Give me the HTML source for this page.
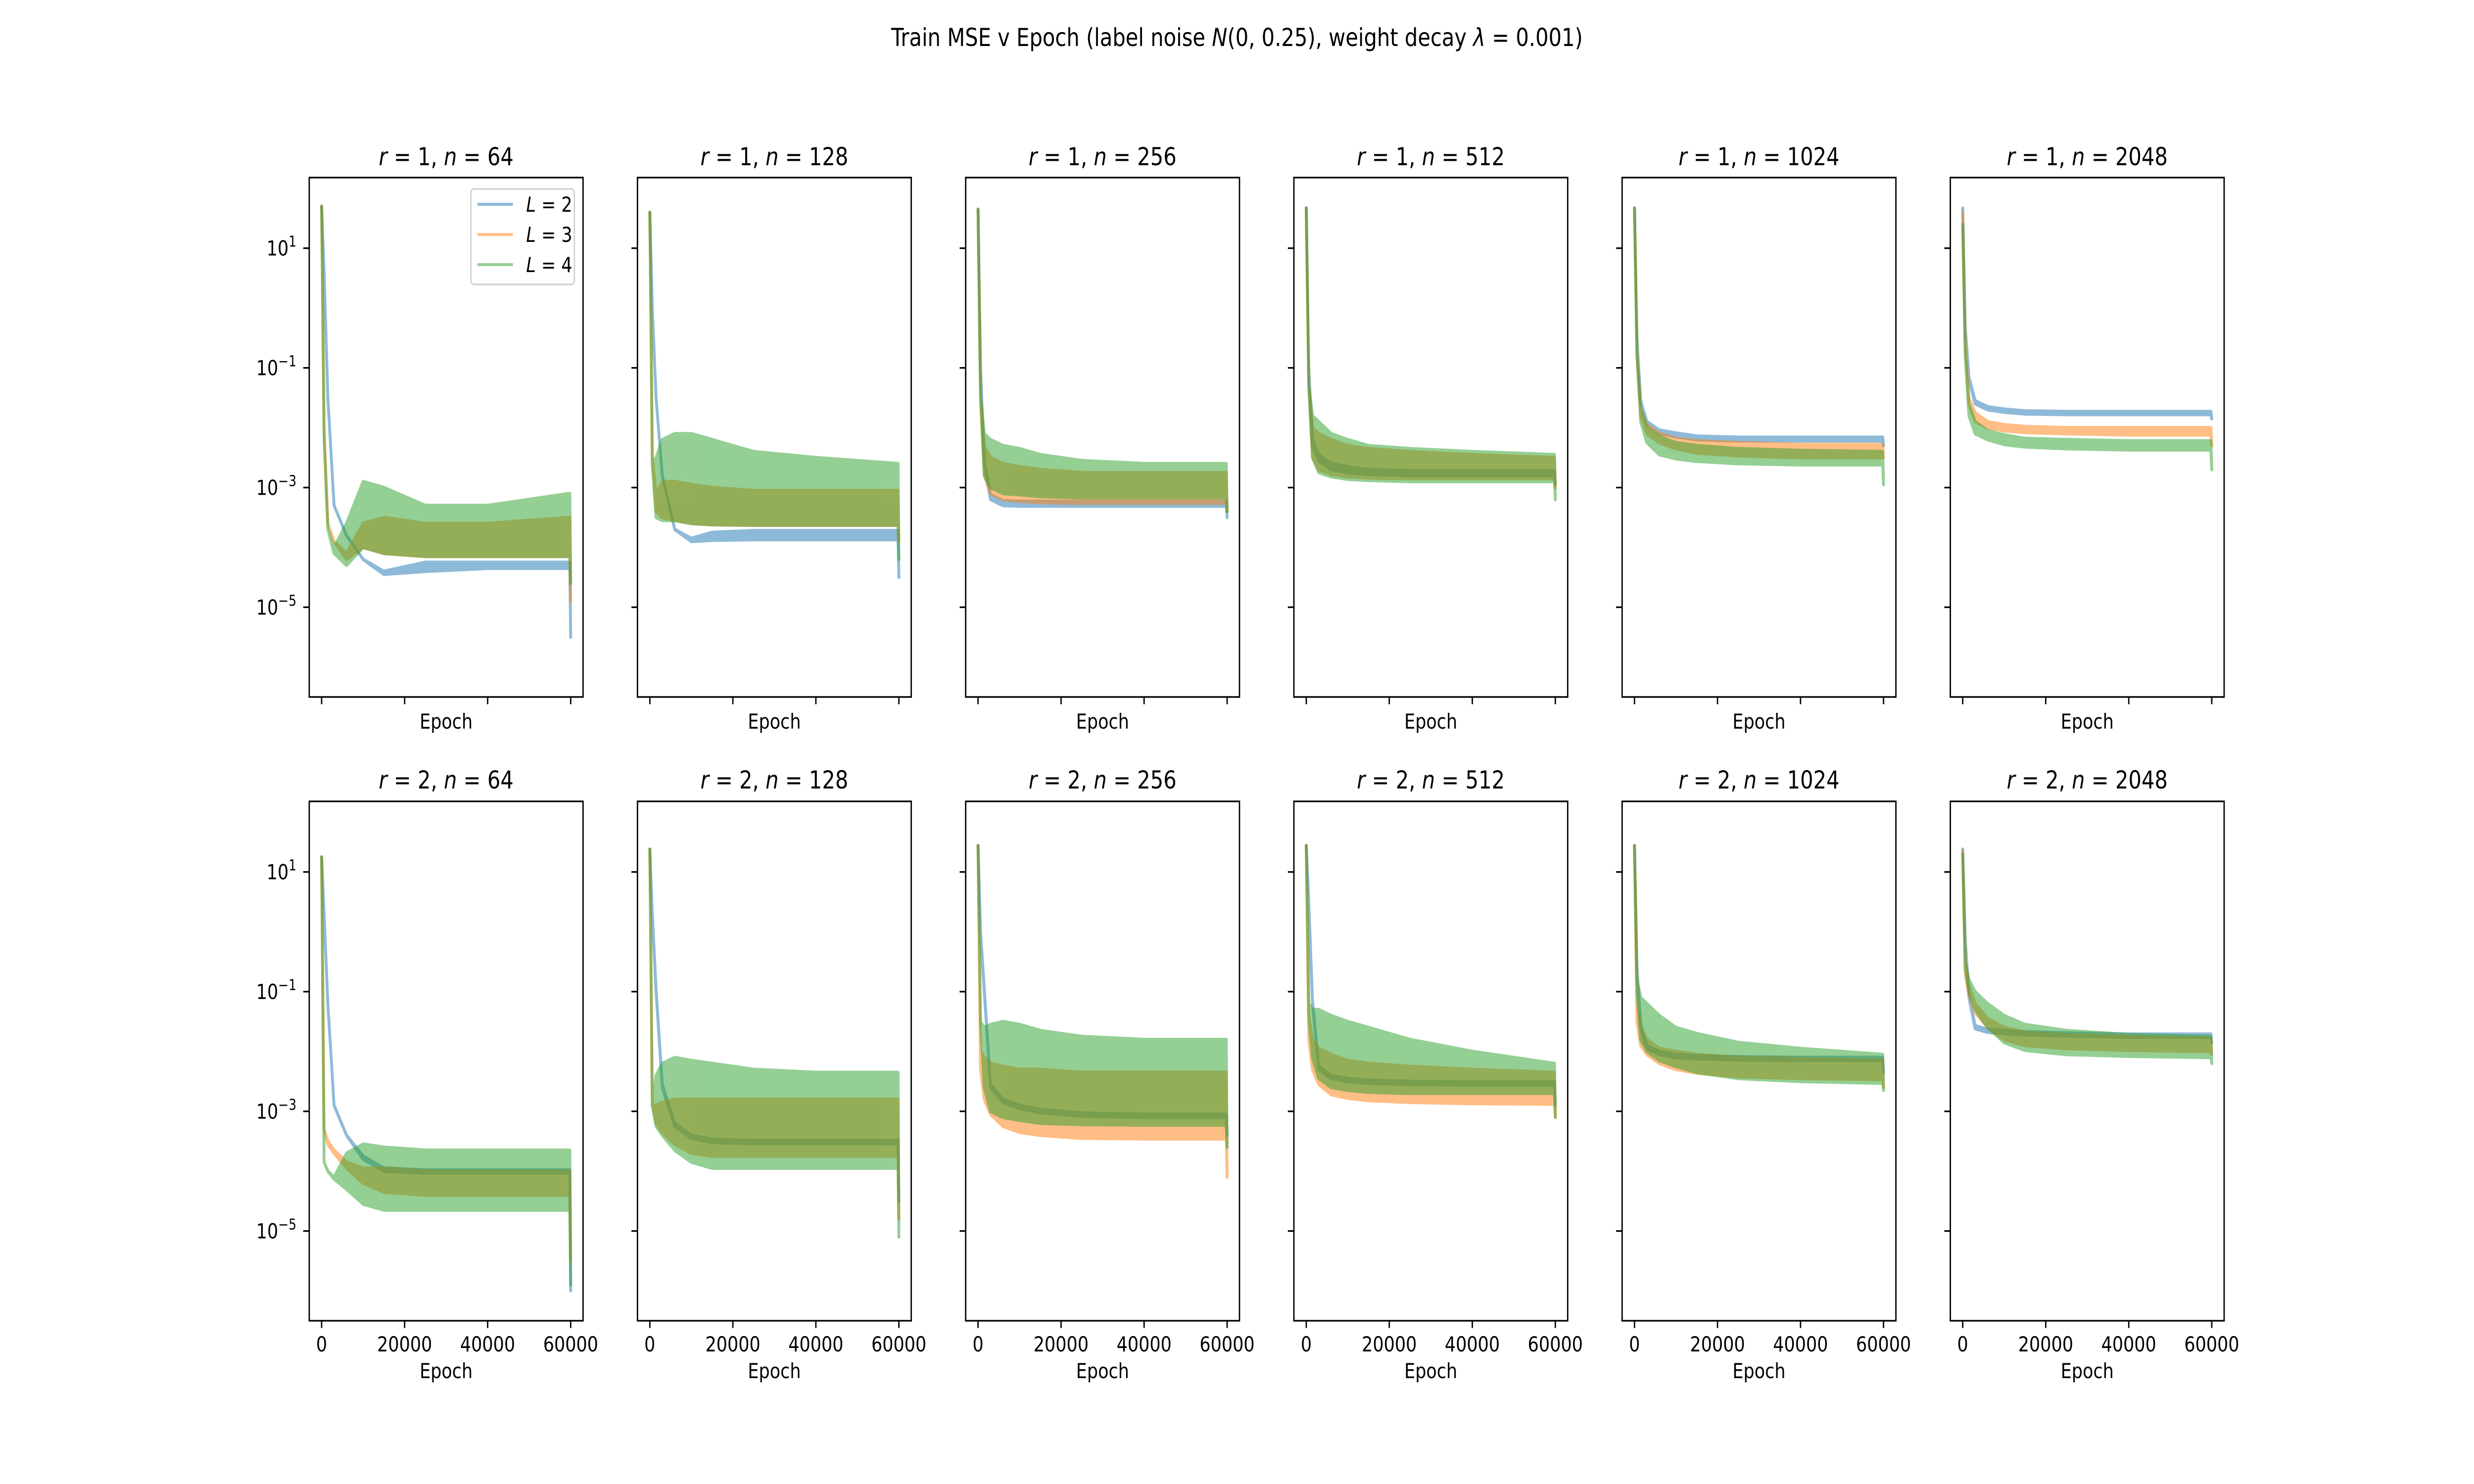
<!DOCTYPE html>
<html><head><meta charset="utf-8"><title>Train MSE v Epoch</title>
<style>
html,body{margin:0;padding:0;background:#fff;overflow:hidden;width:100%;height:100%;}
svg{display:block;font-family:"DejaVu Sans","Liberation Sans",sans-serif;width:100vw;height:100vh;}
</style></head>
<body>
<svg id="fig" viewBox="0 0 6000 3000" preserveAspectRatio="none" xmlns="http://www.w3.org/2000/svg">
<rect x="0" y="0" width="6000" height="3000" fill="#fff"/>
<text x="3000" y="93" font-size="50" text-anchor="middle">Train MSE v Epoch (label noise <tspan font-style="italic">N</tspan>(0, 0.25), weight decay <tspan font-style="italic">λ</tspan> = 0.001)</text>
</svg>
<script>
// ---- data (log10 of train MSE) ----
const epochs = [0, 600, 1500, 3000, 6000, 10000, 15000, 25000, 40000, 59800, 60000];
const rValues = [1, 2];
const nValues = [64, 128, 256, 512, 1024, 2048];
const depthLabels = ["2", "3", "4"];
const xTickValues = [0, 20000, 40000, 60000];
const xTickLabels = ["0", "20000", "40000", "60000"];
const yTickExps = [1, -1, -3, -5];
const yTickSupers = ["1", "\u22121", "\u22123", "\u22125"];

// r=1
const lo_r1_n64 = [
 [1.7,0.6,-1.5,-3.3,-3.8,-4.2,-4.45,-4.4,-4.35,-4.35,-5.5],
 [1.7,-2.0,-3.6,-3.9,-4.2,-4.0,-4.1,-4.15,-4.15,-4.15,-4.9],
 [1.7,-2.2,-3.7,-4.1,-4.3,-4.0,-4.1,-4.15,-4.15,-4.15,-4.6]];
const hi_r1_n64 = [
 [1.7,0.6,-1.5,-3.3,-3.8,-4.2,-4.4,-4.25,-4.25,-4.25,-5.5],
 [1.7,-2.0,-3.6,-3.9,-4.1,-3.6,-3.5,-3.6,-3.6,-3.5,-4.9],
 [1.7,-2.2,-3.7,-4.0,-3.6,-2.9,-3.0,-3.3,-3.3,-3.1,-4.6]];
const lo_r1_n128 = [
 [1.6,0.0,-1.5,-2.8,-3.7,-3.9,-3.88,-3.87,-3.87,-3.87,-4.5],
 [1.6,-2.5,-3.4,-3.5,-3.55,-3.6,-3.62,-3.63,-3.63,-3.63,-3.9],
 [1.6,-2.6,-3.5,-3.55,-3.55,-3.6,-3.62,-3.63,-3.63,-3.63,-4.2]];
const hi_r1_n128 = [
 [1.6,0.0,-1.5,-2.8,-3.7,-3.85,-3.75,-3.72,-3.72,-3.72,-4.5],
 [1.6,-2.5,-3.1,-2.9,-2.9,-2.95,-3.0,-3.05,-3.05,-3.05,-3.9],
 [1.6,-2.6,-2.5,-2.2,-2.1,-2.1,-2.2,-2.4,-2.5,-2.6,-4.2]];
const lo_r1_n256 = [
 [1.65,-1.0,-2.6,-3.2,-3.3,-3.31,-3.31,-3.31,-3.31,-3.31,-3.5],
 [1.65,-1.5,-2.8,-3.1,-3.2,-3.23,-3.25,-3.26,-3.26,-3.26,-3.4],
 [1.65,-1.5,-2.8,-3.0,-3.1,-3.12,-3.15,-3.17,-3.17,-3.17,-3.4]];
const hi_r1_n256 = [
 [1.65,-1.0,-2.55,-3.12,-3.22,-3.23,-3.23,-3.23,-3.23,-3.23,-3.5],
 [1.65,-1.5,-2.3,-2.5,-2.6,-2.65,-2.7,-2.75,-2.75,-2.75,-3.4],
 [1.65,-1.5,-2.1,-2.2,-2.3,-2.35,-2.45,-2.55,-2.6,-2.6,-3.4]];
const lo_r1_n512 = [
 [1.67,-1.0,-2.3,-2.55,-2.7,-2.75,-2.78,-2.8,-2.8,-2.8,-2.95],
 [1.67,-1.3,-2.5,-2.7,-2.78,-2.82,-2.84,-2.85,-2.85,-2.85,-3.0],
 [1.67,-1.3,-2.5,-2.75,-2.82,-2.86,-2.88,-2.9,-2.9,-2.9,-3.2]];
const hi_r1_n512 = [
 [1.67,-1.0,-2.2,-2.45,-2.6,-2.65,-2.7,-2.72,-2.72,-2.72,-2.95],
 [1.67,-1.3,-2.0,-2.1,-2.2,-2.3,-2.35,-2.4,-2.45,-2.5,-3.0],
 [1.67,-1.3,-1.8,-1.9,-2.1,-2.2,-2.3,-2.35,-2.4,-2.45,-3.2]];
const lo_r1_n1024 = [
 [1.67,-0.5,-1.6,-1.95,-2.1,-2.15,-2.2,-2.22,-2.22,-2.22,-2.3],
 [1.67,-0.8,-1.8,-2.1,-2.25,-2.35,-2.42,-2.47,-2.5,-2.5,-2.5],
 [1.67,-0.8,-1.9,-2.25,-2.45,-2.52,-2.56,-2.6,-2.62,-2.62,-2.95]];
const hi_r1_n1024 = [
 [1.67,-0.5,-1.55,-1.9,-2.04,-2.09,-2.14,-2.16,-2.16,-2.16,-2.3],
 [1.67,-0.8,-1.7,-1.95,-2.1,-2.18,-2.22,-2.25,-2.28,-2.28,-2.5],
 [1.67,-0.8,-1.7,-2.0,-2.15,-2.25,-2.3,-2.35,-2.38,-2.4,-2.95]];
const lo_r1_n2048 = [
 [1.67,-0.3,-1.2,-1.6,-1.7,-1.74,-1.77,-1.78,-1.78,-1.78,-1.85],
 [1.6,-0.6,-1.6,-1.9,-2.0,-2.05,-2.08,-2.1,-2.12,-2.12,-2.3],
 [1.4,-0.8,-1.8,-2.1,-2.2,-2.28,-2.32,-2.35,-2.37,-2.37,-2.7]];
const hi_r1_n2048 = [
 [1.67,-0.3,-1.15,-1.55,-1.65,-1.69,-1.72,-1.73,-1.73,-1.73,-1.85],
 [1.6,-0.6,-1.5,-1.75,-1.9,-1.95,-1.98,-2.0,-2.0,-2.0,-2.3],
 [1.4,-0.8,-1.6,-1.9,-2.05,-2.12,-2.18,-2.2,-2.22,-2.22,-2.7]];
// r=2
const lo_r2_n64 = [
 [1.25,0.3,-1.2,-2.9,-3.4,-3.8,-4.0,-4.03,-4.03,-4.03,-6.0],
 [1.25,-3.3,-3.55,-3.7,-3.95,-4.2,-4.35,-4.4,-4.4,-4.4,-5.5],
 [1.25,-3.85,-4.0,-4.13,-4.3,-4.55,-4.65,-4.65,-4.65,-4.65,-5.9]];
const hi_r2_n64 = [
 [1.25,0.3,-1.2,-2.9,-3.4,-3.75,-3.95,-3.98,-3.98,-3.98,-6.0],
 [1.25,-3.3,-3.5,-3.65,-3.85,-3.95,-3.95,-4.0,-4.0,-4.0,-5.5],
 [1.25,-3.85,-4.0,-4.1,-3.7,-3.55,-3.6,-3.65,-3.65,-3.65,-5.9]];
const lo_r2_n128 = [
 [1.38,0.3,-1.0,-2.6,-3.25,-3.45,-3.52,-3.54,-3.54,-3.54,-4.5],
 [1.38,-2.9,-3.2,-3.35,-3.55,-3.7,-3.75,-3.75,-3.75,-3.75,-4.8],
 [1.38,-2.9,-3.25,-3.4,-3.65,-3.85,-3.95,-3.95,-3.95,-3.95,-5.1]];
const hi_r2_n128 = [
 [1.38,0.3,-0.95,-2.55,-3.2,-3.4,-3.47,-3.49,-3.49,-3.49,-4.5],
 [1.38,-2.9,-2.9,-2.85,-2.8,-2.8,-2.8,-2.8,-2.8,-2.8,-4.8],
 [1.38,-2.9,-2.4,-2.2,-2.1,-2.15,-2.2,-2.3,-2.35,-2.35,-5.1]];
const lo_r2_n256 = [
 [1.44,0.0,-1.0,-2.6,-2.85,-2.95,-3.02,-3.08,-3.1,-3.1,-3.4],
 [1.44,-2.3,-2.8,-3.05,-3.25,-3.35,-3.4,-3.45,-3.46,-3.46,-4.1],
 [1.44,-1.5,-2.6,-3.0,-3.1,-3.15,-3.2,-3.22,-3.23,-3.23,-3.6]];
const hi_r2_n256 = [
 [1.44,0.0,-0.95,-2.55,-2.8,-2.9,-2.97,-3.03,-3.05,-3.05,-3.4],
 [1.44,-2.0,-2.1,-2.2,-2.25,-2.3,-2.3,-2.35,-2.35,-2.35,-4.1],
 [1.44,-1.5,-1.6,-1.55,-1.5,-1.55,-1.65,-1.75,-1.8,-1.8,-3.6]];
const lo_r2_n512 = [
 [1.44,0.5,-1.2,-2.3,-2.45,-2.5,-2.53,-2.55,-2.56,-2.56,-2.9],
 [1.44,-1.8,-2.3,-2.55,-2.72,-2.78,-2.82,-2.85,-2.87,-2.88,-3.1],
 [1.44,-1.4,-2.1,-2.45,-2.6,-2.65,-2.68,-2.7,-2.7,-2.7,-3.1]];
const hi_r2_n512 = [
 [1.44,0.5,-1.15,-2.25,-2.4,-2.45,-2.48,-2.5,-2.51,-2.51,-2.9],
 [1.44,-1.4,-1.8,-1.95,-2.05,-2.15,-2.2,-2.25,-2.3,-2.35,-3.1],
 [1.44,-1.2,-1.3,-1.3,-1.4,-1.5,-1.6,-1.8,-2.0,-2.2,-3.1]];
const lo_r2_n1024 = [
 [1.44,-0.6,-1.6,-1.95,-2.05,-2.1,-2.12,-2.14,-2.15,-2.15,-2.35],
 [1.44,-1.5,-1.9,-2.05,-2.2,-2.3,-2.36,-2.42,-2.45,-2.47,-2.6],
 [1.44,-1.0,-1.8,-2.0,-2.15,-2.25,-2.35,-2.45,-2.5,-2.53,-2.65]];
const hi_r2_n1024 = [
 [1.44,-0.6,-1.55,-1.9,-2.0,-2.05,-2.07,-2.09,-2.1,-2.1,-2.35],
 [1.44,-1.2,-1.6,-1.8,-1.95,-2.0,-2.05,-2.1,-2.12,-2.15,-2.6],
 [1.44,-0.8,-1.1,-1.2,-1.4,-1.6,-1.7,-1.85,-1.95,-2.05,-2.65]];
const lo_r2_n2048 = [
 [1.38,-0.1,-1.1,-1.62,-1.68,-1.7,-1.72,-1.74,-1.76,-1.76,-1.85],
 [1.35,-0.7,-1.05,-1.35,-1.6,-1.8,-1.9,-1.95,-1.98,-2.0,-2.05],
 [1.3,-0.6,-1.0,-1.3,-1.6,-1.85,-1.98,-2.05,-2.08,-2.1,-2.2]];
const hi_r2_n2048 = [
 [1.38,-0.1,-1.05,-1.57,-1.63,-1.65,-1.67,-1.69,-1.71,-1.71,-1.85],
 [1.35,-0.5,-0.9,-1.2,-1.45,-1.6,-1.68,-1.72,-1.75,-1.78,-2.05],
 [1.3,-0.5,-0.8,-1.0,-1.2,-1.4,-1.55,-1.65,-1.72,-1.75,-2.2]];

const loData = [[lo_r1_n64,lo_r1_n128,lo_r1_n256,lo_r1_n512,lo_r1_n1024,lo_r1_n2048],
                [lo_r2_n64,lo_r2_n128,lo_r2_n256,lo_r2_n512,lo_r2_n1024,lo_r2_n2048]];
const hiData = [[hi_r1_n64,hi_r1_n128,hi_r1_n256,hi_r1_n512,hi_r1_n1024,hi_r1_n2048],
                [hi_r2_n64,hi_r2_n128,hi_r2_n256,hi_r2_n512,hi_r2_n1024,hi_r2_n2048]];

// ---- layout ----
const NS = "http://www.w3.org/2000/svg";
const svg = document.getElementById("fig");
const colors = ["#1f77b4", "#ff7f0e", "#2ca02c"];
const panelW = 664, panelH = 1050, stepX = 796, left0 = 750;
const tops = [359, 1620];
const xMin = -2980, xMax = 62980, yMin = -6.5, yMax = 2.18;

function mk(tag, attrs) {
  const e = document.createElementNS(NS, tag);
  for (const k in attrs) e.setAttribute(k, attrs[k]);
  return e;
}

for (let ri = 0; ri < 2; ri++) {
  for (let ci = 0; ci < 6; ci++) {
    const px = left0 + ci * stepX, py = tops[ri];
    const sx = v => px + (v - xMin) / (xMax - xMin) * panelW;
    const sy = v => py + (yMax - v) / (yMax - yMin) * panelH;
    const g = mk("g", {});
    
    
    svg.appendChild(g);

    const clipId = "clip" + ri + "_" + ci;
    const cp = mk("clipPath", {id: clipId});
    cp.appendChild(mk("rect", {x: px, y: py, width: panelW, height: panelH}));
    g.appendChild(cp);

    const plot = mk("g", {"clip-path": "url(#" + clipId + ")"});
    g.appendChild(plot);
    for (let s = 0; s < 3; s++) {
      const lo = loData[ri][ci][s], hi = hiData[ri][ci][s];
      const pts = [];
      for (let i = 0; i < epochs.length; i++) pts.push(sx(epochs[i]).toFixed(1) + "," + sy(hi[i]).toFixed(1));
      for (let i = epochs.length - 1; i >= 0; i--) pts.push(sx(epochs[i]).toFixed(1) + "," + sy(lo[i]).toFixed(1));
      const sg = mk("g", {opacity: 0.5});
      
      
      const poly = mk("polygon", {points: pts.join(" "), fill: colors[s], stroke: colors[s], "stroke-width": 7, "stroke-linejoin": "round"});
      
      
      sg.appendChild(poly);
      plot.appendChild(sg);
    }

    const frame = mk("rect", {x: px, y: py, width: panelW, height: panelH, fill: "none", stroke: "#000", "stroke-width": 3.3});
    
    
    g.appendChild(frame);

    for (let t = 0; t < xTickValues.length; t++) {
      const x = sx(xTickValues[t]);
      const tk = mk("line", {x1: x, x2: x, y1: py + panelH, y2: py + panelH + 14.6, stroke: "#000", "stroke-width": 3.3});
      
      
      g.appendChild(tk);
      if (ri === 1) {
        const tl = mk("text", {x: x, y: 2732, "font-size": 42, "text-anchor": "middle"});
        tl.textContent = xTickLabels[t];
        
        
        g.appendChild(tl);
      }
    }
    for (let t = 0; t < yTickExps.length; t++) {
      const y = sy(yTickExps[t]);
      const tk = mk("line", {x1: px - 14.6, x2: px, y1: y, y2: y, stroke: "#000", "stroke-width": 3.3});
      
      
      g.appendChild(tk);
      if (ci === 0) {
        const tl = mk("text", {x: 719, y: y + 15, "font-size": 42, "text-anchor": "end"});
        
        
        const base = mk("tspan", {});
        base.textContent = "10";
        const sup = mk("tspan", {dy: -18, "font-size": 30});
        sup.textContent = yTickSupers[t];
        tl.appendChild(base); tl.appendChild(sup);
        g.appendChild(tl);
      }
    }
    const xl = mk("text", {x: px + panelW / 2, y: ri === 0 ? 1473 : 2786, "font-size": 42, "text-anchor": "middle"});
    xl.textContent = "Epoch";
    
    
    g.appendChild(xl);
    const tt = mk("text", {x: px + panelW / 2, y: ri === 0 ? 334 : 1594, "font-size": 50, "text-anchor": "middle"});
    
    
    const a = mk("tspan", {"font-style": "italic"}); a.textContent = "r";
    const b = mk("tspan", {}); b.textContent = " = " + rValues[ri] + ", ";
    const c = mk("tspan", {"font-style": "italic"}); c.textContent = "n";
    const d = mk("tspan", {}); d.textContent = " = " + nValues[ci];
    tt.appendChild(a); tt.appendChild(b); tt.appendChild(c); tt.appendChild(d);
    g.appendChild(tt);

    if (ri === 0 && ci === 0) {
      const lg = mk("g", {});
      
      
      lg.appendChild(mk("rect", {x: 1142, y: 382, width: 251, height: 193, rx: 8, fill: "#fff", "fill-opacity": 0.8, stroke: "#d0d0d0", "stroke-width": 3.3}));
      const ys = [413, 474, 535];
      for (let s = 0; s < 3; s++) {
        const ent = mk("g", {});
        
        
        ent.appendChild(mk("line", {x1: 1158, x2: 1244, y1: ys[s], y2: ys[s], stroke: colors[s], "stroke-width": 6, "stroke-opacity": 0.5}));
        const lt = mk("text", {x: 1276, y: ys[s] + 15, "font-size": 42});
        const l1 = mk("tspan", {"font-style": "italic"}); l1.textContent = "L";
        const l2 = mk("tspan", {}); l2.textContent = " = " + depthLabels[s];
        lt.appendChild(l1); lt.appendChild(l2);
        ent.appendChild(lt);
        lg.appendChild(ent);
      }
      g.appendChild(lg);
    }
  }
}
</script>
</body></html>
